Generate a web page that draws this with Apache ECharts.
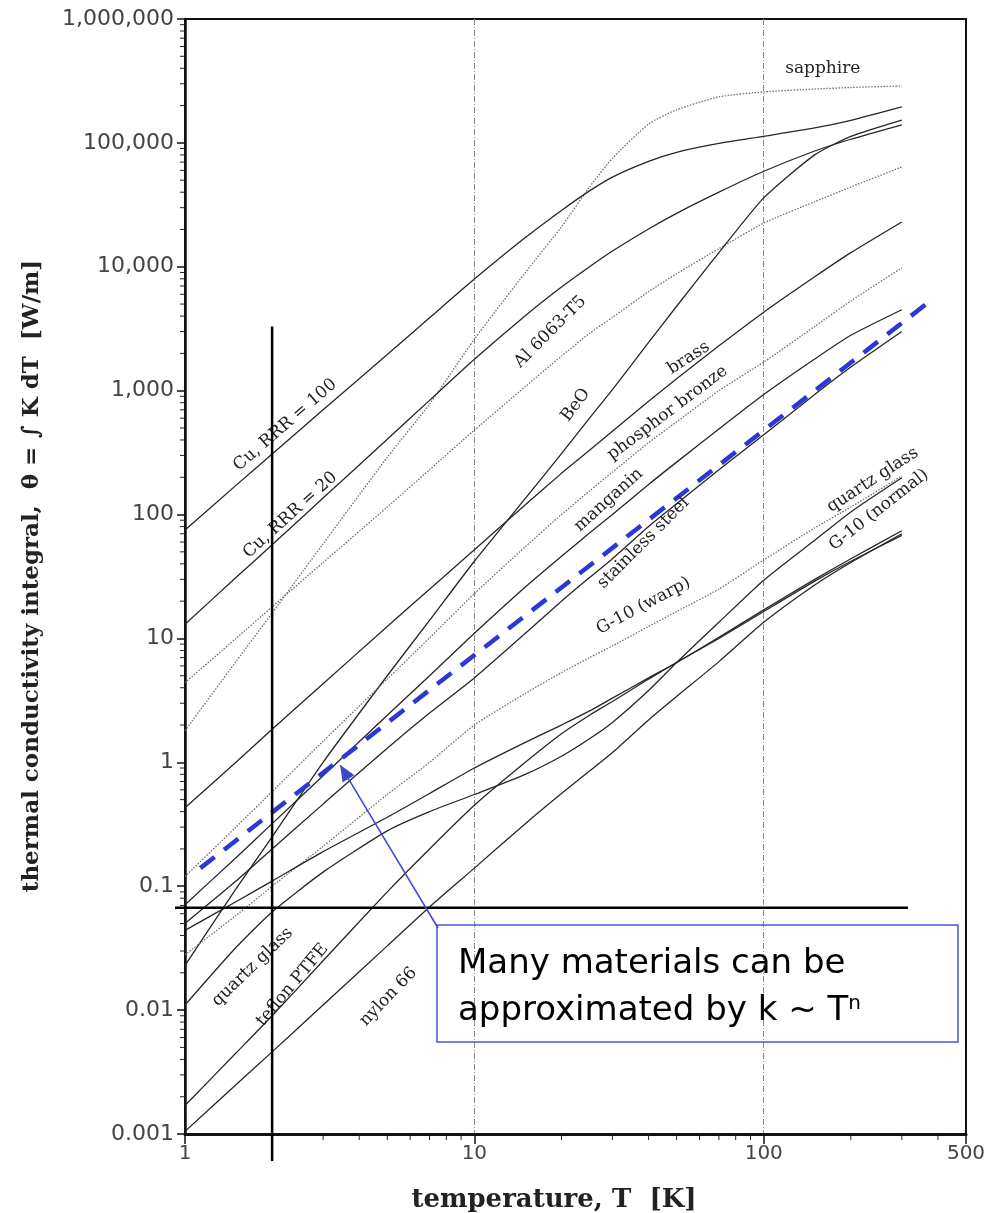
<!DOCTYPE html>
<html>
<head>
<meta charset="utf-8">
<script src="https://cdn.jsdelivr.net/npm/echarts@6/dist/echarts.min.js"></script>
<style>
  html, body { margin: 0; padding: 0; background: #fff; }
  #chart { width: 998px; height: 1213px; }
</style>
</head>
<body>
<div id="chart"></div>
<script>
// temperature points (K) shared by every curve
const temps = [1, 1.5, 2, 3, 5, 7, 10, 15, 20, 25, 30, 40, 50, 70, 100, 150, 200, 300];

// thermal conductivity integral theta (W/m)
const sapphire = [1.8, 6.5, 16, 58, 290, 780, 2600, 9000, 21000, 44000, 75000, 142000, 185000, 235000, 258000, 272000, 280000, 288000];
const cuRrr100 = [75, 172, 308, 700, 1960, 3870, 7950, 17200, 28500, 41000, 53000, 71000, 84000, 99000, 113000, 132000, 152000, 195000];
const cuRrr20 = [13, 31, 57, 136, 405, 835, 1790, 4030, 6860, 10000, 13400, 20200, 27000, 40000, 59000, 86000, 107000, 140000];
const al6063 = [4.4, 10, 18, 41, 115, 230, 480, 1080, 1900, 2900, 3900, 6300, 8800, 14000, 22500, 33500, 44000, 64000];
const beo = [0.023, 0.095, 0.25, 1.0, 5.0, 14, 42, 135, 310, 600, 1020, 2450, 4800, 13000, 36000, 80000, 113000, 153000];
const brass = [0.43, 1.0, 1.85, 4.3, 12.5, 25, 52, 120, 215, 330, 470, 820, 1250, 2300, 4300, 8300, 13000, 23000];
const phosphorBronze = [0.12, 0.30, 0.58, 1.48, 4.7, 10.1, 23, 55, 100, 155, 220, 380, 560, 1000, 1700, 3300, 5300, 9800];
const manganin = [0.071, 0.17, 0.32, 0.78, 2.4, 5.0, 11, 26, 46, 71, 100, 175, 265, 490, 930, 1800, 2800, 4500];
const stainless = [0.05, 0.11, 0.2, 0.46, 1.3, 2.5, 4.8, 11, 20, 31, 44, 80, 122, 230, 440, 930, 1550, 3000];
const g10Warp = [0.028, 0.058, 0.1, 0.21, 0.55, 1.0, 2.0, 3.6, 5.3, 7.0, 8.7, 12.5, 16.5, 25, 43, 78, 115, 205];
const g10Normal = [0.044, 0.075, 0.11, 0.19, 0.36, 0.56, 0.9, 1.45, 2.0, 2.6, 3.3, 4.8, 6.4, 10.2, 17, 30, 44, 74];
const quartz = [0.011, 0.032, 0.062, 0.13, 0.28, 0.4, 0.55, 0.8, 1.12, 1.55, 2.1, 3.8, 6.4, 13.5, 29.5, 62, 105, 198];
const teflon = [0.0017, 0.0045, 0.009, 0.025, 0.09, 0.2, 0.45, 1.0, 1.7, 2.4, 3.1, 4.7, 6.4, 10, 16.5, 29, 42, 68];
const nylon = [0.00105, 0.0025, 0.0046, 0.011, 0.033, 0.068, 0.14, 0.32, 0.56, 0.85, 1.2, 2.2, 3.4, 6.5, 13.5, 27, 41, 70];

// k ~ T^n guide line (two end points, T and theta)
const approxT = [1.13, 380];
const approxTheta = [0.14, 5400];

// the two black marker lines
const markerT = 2;
const markerTop = 3300;
const markerTheta = 0.067;
const markerEndT = 315;

const curves = [
  { name: 'sapphire', values: sapphire, dotted: true },
  { name: 'Cu, RRR = 100', values: cuRrr100 },
  { name: 'Cu, RRR = 20', values: cuRrr20 },
  { name: 'Al 6063-T5', values: al6063, dotted: true },
  { name: 'BeO', values: beo },
  { name: 'brass', values: brass },
  { name: 'phosphor bronze', values: phosphorBronze, dotted: true },
  { name: 'manganin', values: manganin },
  { name: 'stainless steel', values: stainless },
  { name: 'G-10 (warp)', values: g10Warp, dotted: true },
  { name: 'G-10 (normal)', values: g10Normal },
  { name: 'quartz glass', values: quartz },
  { name: 'teflon PTFE', values: teflon },
  { name: 'nylon 66', values: nylon }
];

// label anchors in data coords, angle in degrees
const curveLabels = [
  { text: 'sapphire', at: [160, 395000], angle: 0 },
  { text: 'Cu, RRR = 100', at: [2.22, 528], angle: 41 },
  { text: 'Cu, RRR = 20', at: [2.31, 99], angle: 42 },
  { text: 'Al 6063-T5', at: [18.3, 2980], angle: 45 },
  { text: 'BeO', at: [22.4, 767], angle: 53 },
  { text: 'brass', at: [55, 1836], angle: 33 },
  { text: 'phosphor bronze', at: [46.5, 661], angle: 37 },
  { text: 'manganin', at: [29.1, 131], angle: 42 },
  { text: 'stainless steel', at: [38.4, 59], angle: 45 },
  { text: 'G-10 (warp)', at: [38.4, 18.3], angle: 28 },
  { text: 'quartz glass', at: [238, 190], angle: 33 },
  { text: 'G-10 (normal)', at: [250, 109], angle: 38 },
  { text: 'quartz glass', at: [1.71, 0.0223], angle: 44 },
  { text: 'teflon PTFE', at: [2.35, 0.016], angle: 50 },
  { text: 'nylon 66', at: [5.04, 0.0128], angle: 46 }
];

function fmt(v) {
  const n = Number(Number(v).toPrecision(6));
  return n >= 1 ? n.toLocaleString('en-US') : String(n);
}

const series = curves.map(c => ({
  name: c.name,
  type: 'line',
  data: temps.map((t, i) => [t, c.values[i]]),
  showSymbol: false,
  smooth: 0.2,
  silent: true,
  z: 2,
  lineStyle: c.dotted
    ? { color: '#6e6e6e', width: 1.3, type: [1.5, 1.5] }
    : { color: '#262626', width: 1.3 }
}));

series.push({
  name: 'k ~ T^n',
  type: 'line',
  data: approxT.map((t, i) => [t, approxTheta[i]]),
  showSymbol: false,
  silent: true,
  z: 5,
  lineStyle: { color: '#2c38d6', width: 4.5, type: [18, 12] }
});

const option = {
  animation: false,
  backgroundColor: '#fff',
  grid: {
    left: 185, right: 32, top: 19, bottom: 79,
    show: true, borderColor: '#111', borderWidth: 2,
    containLabel: false, outerBoundsMode: 'none'
  },
  xAxis: {
    type: 'log', logBase: 10, min: 1, max: 500, splitNumber: 3,
    axisLine: { show: true, lineStyle: { color: '#111', width: 3 } },
    axisTick: { show: true, length: 10, lineStyle: { color: '#111', width: 1.5 } },
    axisLabel: { fontFamily: 'DejaVu Sans', fontSize: 20, color: '#444', margin: 10, formatter: fmt },
    splitLine: { show: true, showMinLine: false, showMaxLine: false,
      lineStyle: { color: '#8a8a8a', width: 1, type: [6, 2, 1, 2] } }
  },
  yAxis: {
    type: 'log', logBase: 10, min: 0.001, max: 1000000, splitNumber: 9,
    axisLine: { show: true, lineStyle: { color: '#111', width: 2.5 } },
    axisTick: { show: true, length: 8, lineStyle: { color: '#111', width: 1.5 } },
    axisLabel: { fontFamily: 'DejaVu Sans', fontSize: 22, color: '#444', margin: 11, formatter: fmt },
    splitLine: { show: false }
  },
  series: series
};

const chart = echarts.init(document.getElementById('chart'));
chart.setOption(option);

const px = (t, v) => chart.convertToPixel({ xAxisIndex: 0, yAxisIndex: 0 }, [t, v]);
const graphics = [];
const x0 = px(1, 1)[0];
const yb = px(1, 0.001)[1];

// minor ticks, y axis
for (let e = -3; e < 6; e++) {
  for (let m = 2; m < 10; m++) {
    const y = px(1, m * Math.pow(10, e))[1];
    graphics.push({ type: 'line', silent: true, z: 50,
      shape: { x1: x0 - 5, y1: y, x2: x0, y2: y },
      style: { stroke: '#222', lineWidth: 1 } });
  }
}
// minor ticks, x axis
[2, 3, 4, 5, 6, 7, 8, 9, 20, 30, 40, 50, 60, 70, 80, 90, 200, 300, 400].forEach(t => {
  const x = px(t, 1)[0];
  graphics.push({ type: 'line', silent: true, z: 50,
    shape: { x1: x, y1: yb, x2: x, y2: yb + 6 },
    style: { stroke: '#222', lineWidth: 1 } });
});

// curve labels
curveLabels.forEach(l => {
  const p = px(l.at[0], l.at[1]);
  graphics.push({ type: 'text', silent: true, z: 60, x: p[0], y: p[1],
    rotation: l.angle * Math.PI / 180,
    style: { text: l.text, x: 0, y: 0, align: 'center', verticalAlign: 'middle',
      font: '17px "DejaVu Serif"', fill: '#222' } });
});

// black marker lines
const vTop = px(markerT, markerTop);
graphics.push({ type: 'line', silent: true, z: 70,
  shape: { x1: vTop[0], y1: vTop[1], x2: vTop[0], y2: yb + 27 },
  style: { stroke: '#000', lineWidth: 2.5 } });
const hEnd = px(markerEndT, markerTheta);
graphics.push({ type: 'line', silent: true, z: 70,
  shape: { x1: x0 - 10, y1: hEnd[1], x2: hEnd[0], y2: hEnd[1] },
  style: { stroke: '#000', lineWidth: 2.5 } });

// annotation box + arrow
const box = { x: 437, y: 925, w: 521, h: 117 };
graphics.push({ type: 'rect', silent: true, z: 80,
  shape: { x: box.x, y: box.y, width: box.w, height: box.h },
  style: { fill: 'transparent', stroke: '#4a55d8', lineWidth: 1.5 } });
graphics.push({ type: 'text', silent: true, z: 81, x: box.x + 21, y: box.y + 16,
  style: {
    text: 'Many materials can be\napproximated by k ~ T{sup|n}',
    font: '34px "DejaVu Sans"', fill: '#000', lineHeight: 47,
    align: 'left', verticalAlign: 'top',
    rich: { sup: { fontSize: 20, fontFamily: 'DejaVu Sans', verticalAlign: 'top', padding: [6, 0, 0, 0], fill: '#000' } }
  } });
const tip = px(3.44, 0.95);
const start = [box.x + 1, box.y + 3];
graphics.push({ type: 'line', silent: true, z: 80,
  shape: { x1: start[0], y1: start[1], x2: tip[0], y2: tip[1] },
  style: { stroke: '#3f48cc', lineWidth: 1.5 } });
{
  const dx = tip[0] - start[0], dy = tip[1] - start[1];
  const len = Math.hypot(dx, dy), ux = dx / len, uy = dy / len;
  const bx = tip[0] - ux * 16, by = tip[1] - uy * 16;
  graphics.push({ type: 'polygon', silent: true, z: 80,
    shape: { points: [tip, [bx - uy * 7, by + ux * 7], [bx + uy * 7, by - ux * 7]] },
    style: { fill: '#3f48cc' } });
}

// axis titles
graphics.push({ type: 'text', silent: true, z: 60, x: 32, y: 576, rotation: Math.PI / 2,
  style: { text: 'thermal conductivity integral,  \u03b8 = \u222b K dT  [W/m]', x: 0, y: 0,
    align: 'center', verticalAlign: 'middle', font: 'bold 23px "DejaVu Serif"', fill: '#222' } });
graphics.push({ type: 'text', silent: true, z: 60, x: 554, y: 1200,
  style: { text: 'temperature, T  [K]', x: 0, y: 0,
    align: 'center', verticalAlign: 'middle', font: 'bold 26px "DejaVu Serif"', fill: '#222' } });

chart.setOption({ graphic: graphics });
</script>
</body>
</html>
